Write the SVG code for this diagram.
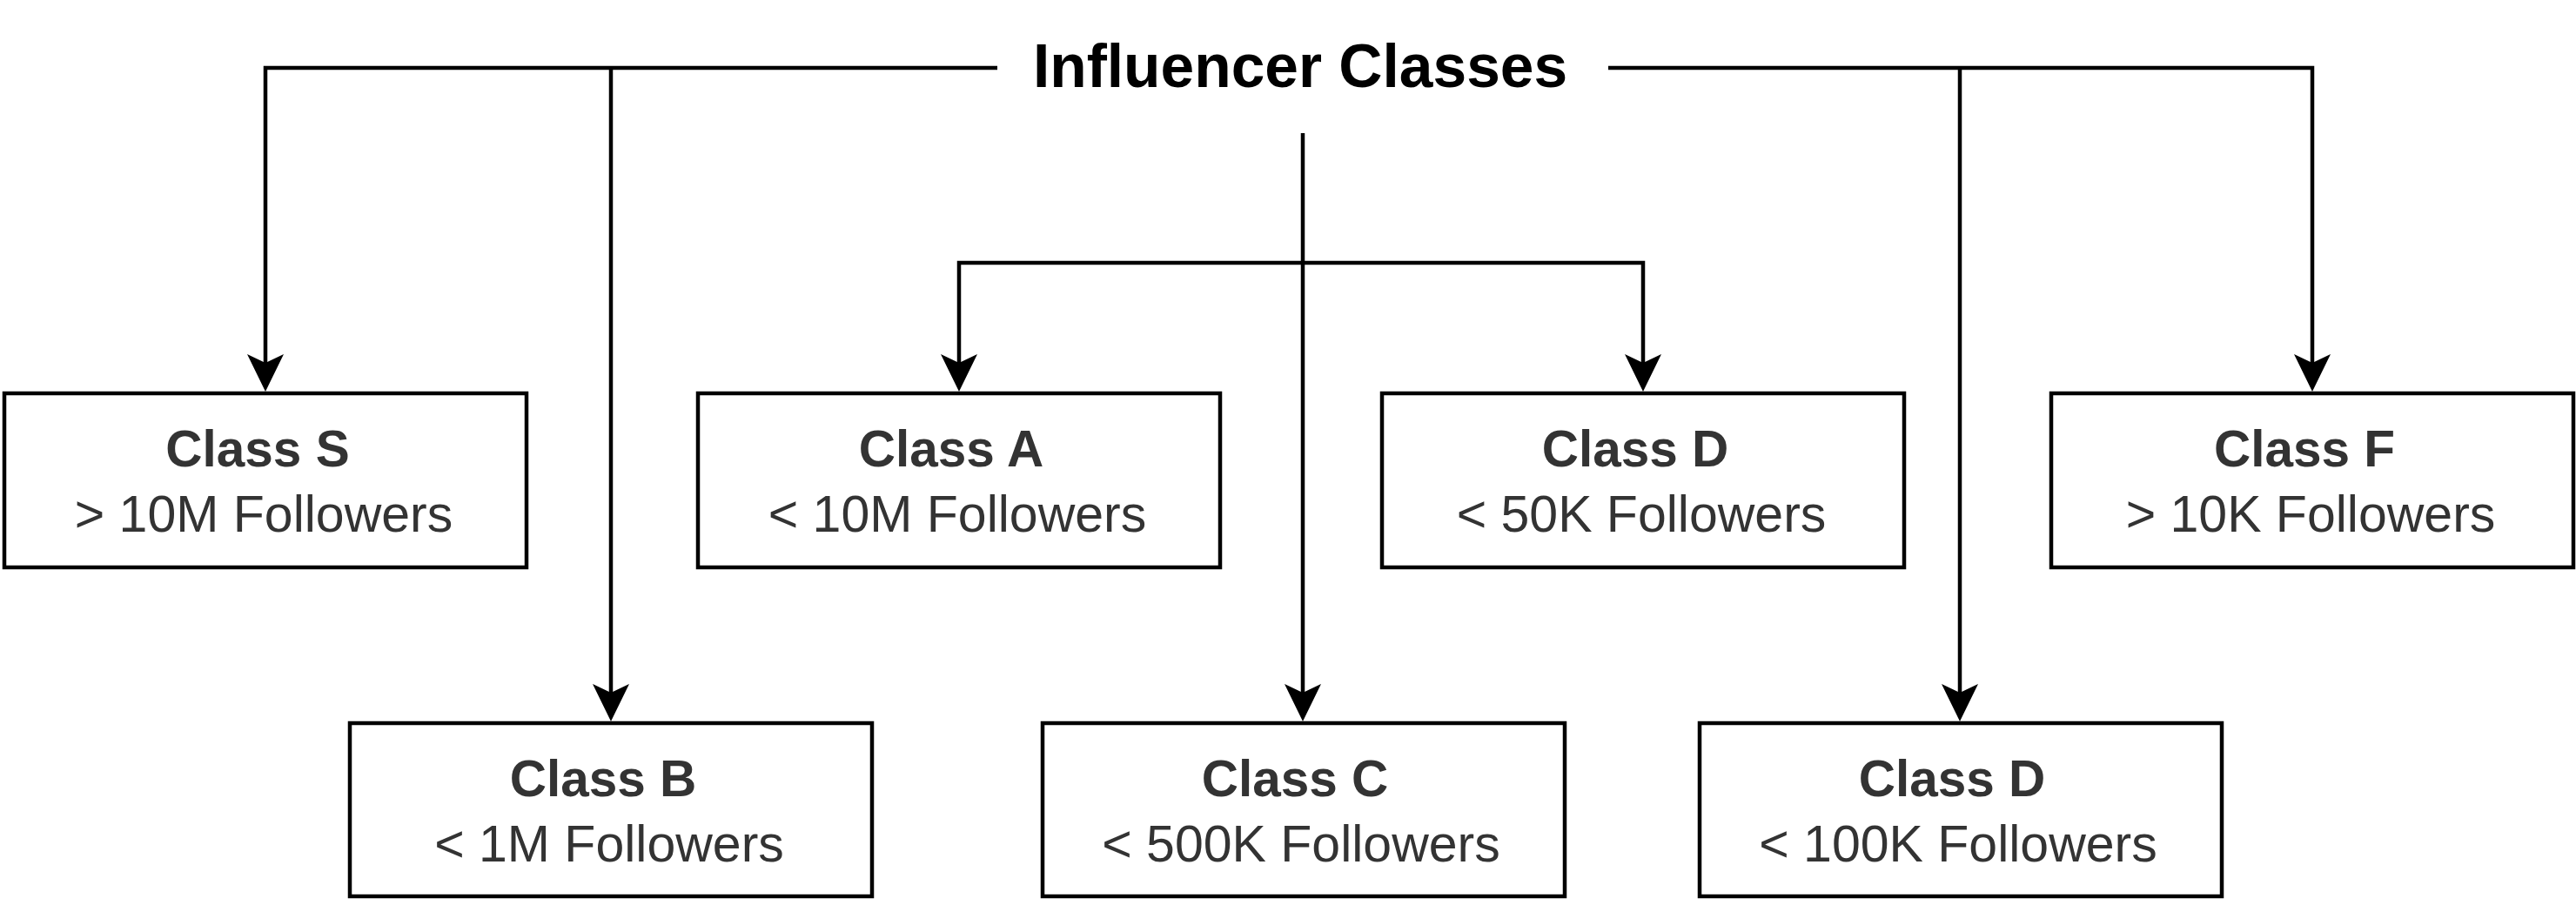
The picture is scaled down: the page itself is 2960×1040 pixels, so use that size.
<svg xmlns="http://www.w3.org/2000/svg" width="2960" height="1040" viewBox="0 0 2960 1040">
<style>
.box{fill:#ffffff;stroke:#000000;stroke-width:4.5}
.ln{fill:none;stroke:#000000;stroke-width:4.5;stroke-linejoin:miter;stroke-linecap:butt}
.t{font-family:"Liberation Sans",Arial,sans-serif;text-anchor:middle;fill:#333333}
.h{font-weight:bold;font-size:58.5px}
.n{font-size:59px}
.title{font-family:"Liberation Sans",Arial,sans-serif;text-anchor:middle;font-weight:bold;font-size:69.5px;fill:#000000}
</style>
<defs>
<marker id="arr" markerUnits="userSpaceOnUse" viewBox="0 -22 43 44" refX="10" refY="0" markerWidth="43" markerHeight="44" orient="auto">
<path d="M0,-21 L43,0 L0,21 L10,0 Z" fill="#000000"/>
</marker>
</defs>
<rect width="2960" height="1040" fill="#ffffff"/>
<g id="connectors">
<path class="ln" d="M1146,78 H305 V417" marker-end="url(#arr)"/>
<path class="ln" d="M702,78 V796" marker-end="url(#arr)"/>
<path class="ln" d="M1848,78 H2657 V417" marker-end="url(#arr)"/>
<path class="ln" d="M2252,78 V796" marker-end="url(#arr)"/>
<path class="ln" d="M1497,153 V796" marker-end="url(#arr)"/>
<path class="ln" d="M1497,302 H1888 V417" marker-end="url(#arr)"/>
<path class="ln" d="M1497,302 H1102 V417" marker-end="url(#arr)"/>
</g>
<g id="title">
<text class="title" x="1494" y="100">Influencer Classes</text>
</g>
<g id="classS">
<rect class="box" x="5" y="452" width="600" height="200"/>
<text class="t h" x="296" y="536">Class S</text>
<text class="t n" x="303" y="611">&gt; 10M Followers</text>
</g>
<g id="classA">
<rect class="box" x="802" y="452" width="600" height="200"/>
<text class="t h" x="1093" y="536">Class A</text>
<text class="t n" x="1100" y="611">&lt; 10M Followers</text>
</g>
<g id="classD1">
<rect class="box" x="1588" y="452" width="600" height="200"/>
<text class="t h" x="1879" y="536">Class D</text>
<text class="t n" x="1886" y="611">&lt; 50K Followers</text>
</g>
<g id="classF">
<rect class="box" x="2357" y="452" width="600" height="200"/>
<text class="t h" x="2648" y="536">Class F</text>
<text class="t n" x="2655" y="611">&gt; 10K Followers</text>
</g>
<g id="classB">
<rect class="box" x="402" y="831" width="600" height="199"/>
<text class="t h" x="693" y="915">Class B</text>
<text class="t n" x="700" y="990">&lt; 1M Followers</text>
</g>
<g id="classC">
<rect class="box" x="1198" y="831" width="600" height="199"/>
<text class="t h" x="1488" y="915">Class C</text>
<text class="t n" x="1495" y="990">&lt; 500K Followers</text>
</g>
<g id="classD2">
<rect class="box" x="1953" y="831" width="600" height="199"/>
<text class="t h" x="2243" y="915">Class D</text>
<text class="t n" x="2250" y="990">&lt; 100K Followers</text>
</g>
</svg>
